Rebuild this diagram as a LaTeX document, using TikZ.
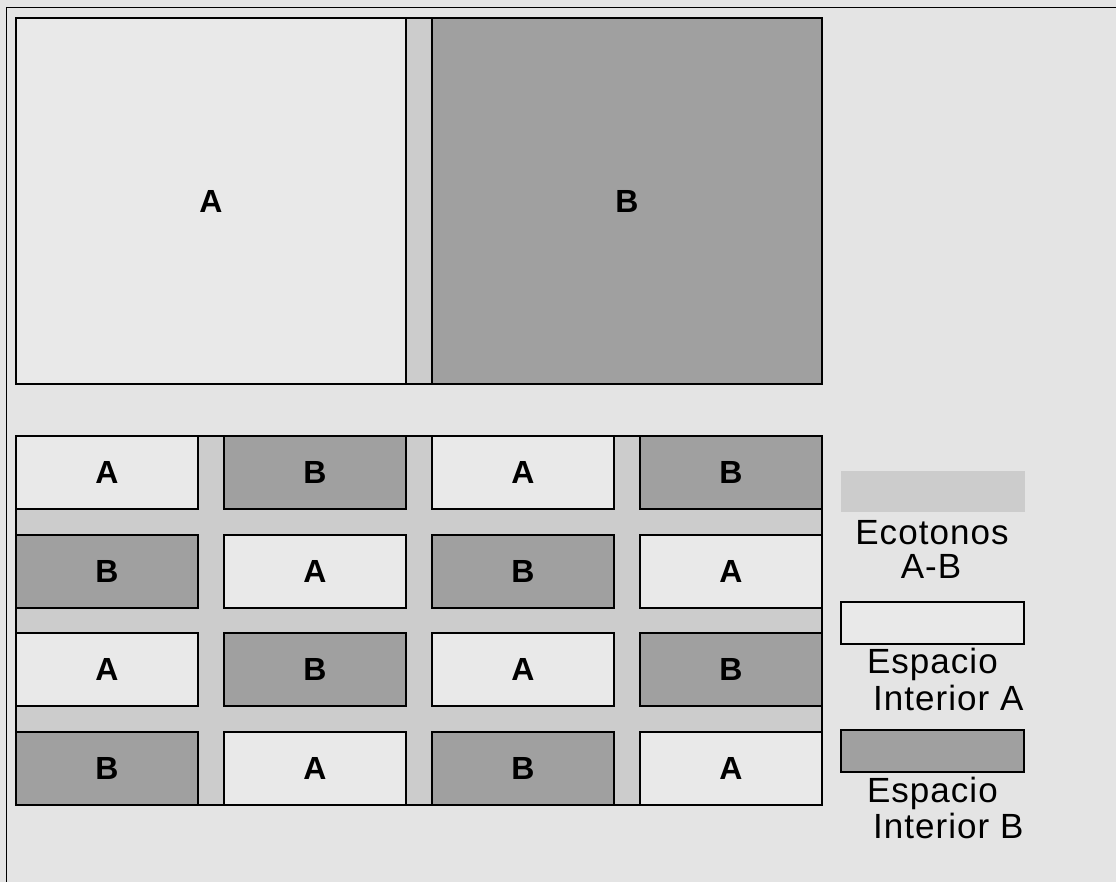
\documentclass[tikz,border=0pt]{standalone}
\usepackage{fontspec}
\setmainfont{Liberation Sans}
\newfontfamily\legfont[LetterSpace=3]{Liberation Sans}
\definecolor{bgc}{HTML}{E4E4E4}
\definecolor{afill}{HTML}{E9E9E9}
\definecolor{bfill}{HTML}{A0A0A0}
\definecolor{ecofill}{HTML}{CCCCCC}
\begin{document}
\begin{tikzpicture}[x=1pt,y=-1pt,
  box/.style={draw=black,line width=1.8pt,inner sep=0pt,outer sep=0pt,anchor=north west,
    font=\fontsize{32}{34}\selectfont\bfseries},
  eco/.style={box,fill=ecofill},
  cell/.style={box,minimum width=182pt,minimum height=73pt},
  acell/.style={cell,fill=afill},
  bcell/.style={cell,fill=bfill},
  legtext/.style={font=\fontsize{35}{40}\selectfont\legfont,inner sep=0pt,outer sep=0pt}]
\useasboundingbox (0,0) rectangle (1116,882);
\fill[bgc] (0,0) rectangle (1116,882);
\draw[line width=1pt] (6,882) -- (6,8) -- (1116,8);
% top region
\node[eco,minimum width=806pt,minimum height=366pt] (top) at (16,18) {};
\node[box,fill=afill,minimum width=390pt,minimum height=366pt] (bigA) at (16,18) {A};
\node[box,fill=bfill,minimum width=390pt,minimum height=366pt] (bigB) at (432,18) {B};
% grid region
\node[eco,minimum width=806pt,minimum height=369pt] (grid) at (16,436) {};
\node[acell] (c11) at (16,436) {A};
\node[bcell] (c12) at (224,436) {B};
\node[acell] (c13) at (432,436) {A};
\node[bcell] (c14) at (640,436) {B};
\node[bcell] (c21) at (16,535) {B};
\node[acell] (c22) at (224,535) {A};
\node[bcell] (c23) at (432,535) {B};
\node[acell] (c24) at (640,535) {A};
\node[acell] (c31) at (16,633) {A};
\node[bcell] (c32) at (224,633) {B};
\node[acell] (c33) at (432,633) {A};
\node[bcell] (c34) at (640,633) {B};
\node[bcell] (c41) at (16,732) {B};
\node[acell] (c42) at (224,732) {A};
\node[bcell] (c43) at (432,732) {B};
\node[acell] (c44) at (640,732) {A};
% legend
\node[fill=ecofill,inner sep=0pt,outer sep=0pt,anchor=north west,minimum width=184pt,minimum height=41pt] (leg1) at (841,471) {};
\node[box,fill=afill,minimum width=183pt,minimum height=42pt] (leg2) at (841,602) {};
\node[box,fill=bfill,minimum width=183pt,minimum height=42pt] (leg3) at (841,730) {};
\node[legtext,anchor=base] (t1) at (932,544) {Ecotonos};
\node[legtext,anchor=base] (t2) at (931,578) {A-B};
\node[legtext,anchor=base west] (t3) at (867,673) {Espacio};
\node[legtext,anchor=base west] (t4) at (873,710) {Interior A};
\node[legtext,anchor=base west] (t5) at (867,802) {Espacio};
\node[legtext,anchor=base west] (t6) at (873,838) {Interior B};
\end{tikzpicture}
\end{document}
